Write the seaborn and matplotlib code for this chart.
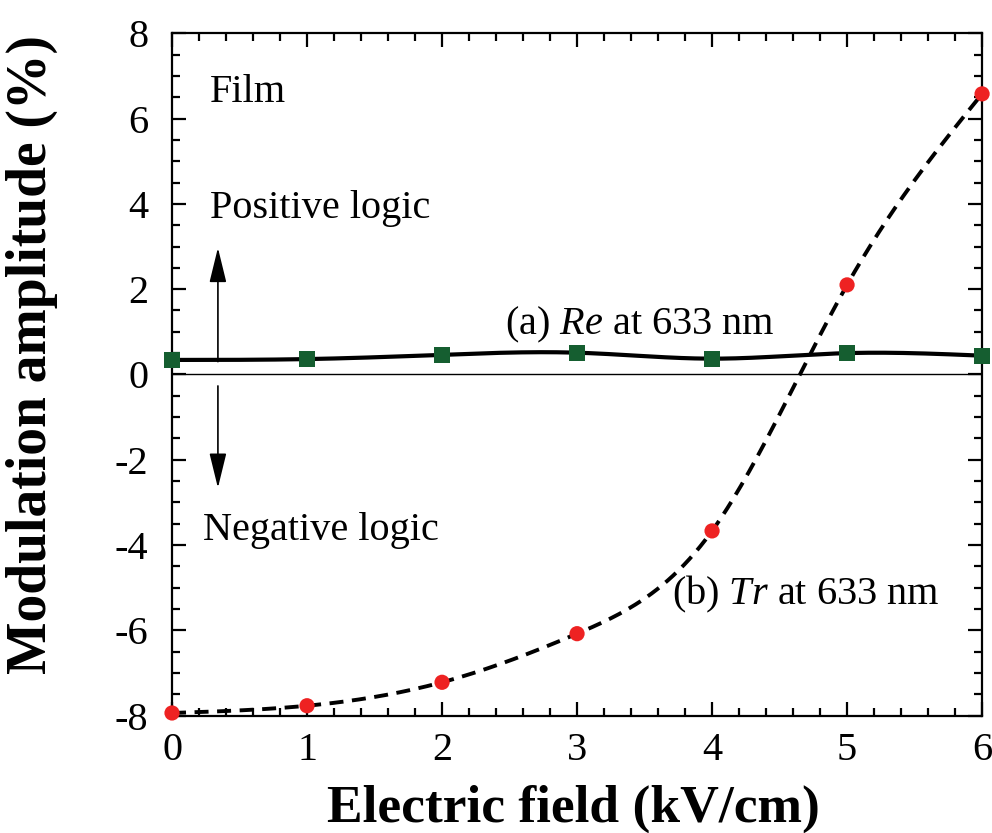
import matplotlib
matplotlib.use("Agg")
import matplotlib.pyplot as plt
from matplotlib.ticker import MultipleLocator
import seaborn as sns
import numpy as np
import pandas as pd

# data
field = [0, 1, 2, 3, 4, 5, 6]
re_633 = [0.34, 0.36, 0.46, 0.51, 0.37, 0.50, 0.44]
tr_633 = [-7.94, -7.77, -7.22, -6.08, -3.67, 2.10, 6.58]


def natural_spline(x, y, xs):
  # plain natural cubic spline, smooth line through the measured points
  x = np.asarray(x, float)
  y = np.asarray(y, float)
  n = len(x)
  h = np.diff(x)
  A = np.zeros((n, n))
  b = np.zeros(n)
  A[0, 0] = A[-1, -1] = 1
  for i in range(1, n - 1):
    A[i, i - 1] = h[i - 1]
    A[i, i] = 2 * (h[i - 1] + h[i])
    A[i, i + 1] = h[i]
    b[i] = 3 * ((y[i + 1] - y[i]) / h[i] - (y[i] - y[i - 1]) / h[i - 1])
  c = np.linalg.solve(A, b)
  out = np.empty_like(xs)
  for k, t in enumerate(xs):
    i = min(np.searchsorted(x, t, side="right") - 1, n - 2)
    i = max(i, 0)
    dx = t - x[i]
    bb = (y[i + 1] - y[i]) / h[i] - h[i] * (2 * c[i] + c[i + 1]) / 3
    d = (c[i + 1] - c[i]) / (3 * h[i])
    out[k] = y[i] + bb * dx + c[i] * dx ** 2 + d * dx ** 3
  return out


df = pd.DataFrame({"field": field, "re": re_633, "tr": tr_633})
xs = np.linspace(0, 6, 300)
fit_tr = natural_spline(df["field"], df["tr"], xs)
fit_re = natural_spline(df["field"], df["re"], xs)

sns.set_style("ticks")
plt.rcParams["font.family"] = ["Liberation Serif", "DejaVu Serif"]
plt.rcParams["mathtext.fontset"] = "custom"
plt.rcParams["mathtext.it"] = "Liberation Serif:italic"
plt.rcParams["mathtext.rm"] = "Liberation Serif"
plt.rcParams["axes.unicode_minus"] = False
for k in ["text.color", "axes.labelcolor", "xtick.color", "ytick.color", "axes.edgecolor"]:
  plt.rcParams[k] = "black"

fig = plt.figure(figsize=(9.92, 8.33), dpi=100)
ax = fig.add_axes([0.1734, 0.141, 0.8166, 0.819])

ax.axhline(0, color="black", linewidth=1.0, zorder=1)

sns.lineplot(x=xs, y=fit_re, ax=ax, color="black", linewidth=3, zorder=2)
sns.lineplot(x=xs, y=fit_tr, ax=ax, color="black", linewidth=2.8,
             linestyle=(0, (3.6, 2.2)), zorder=2)
sns.scatterplot(data=df, x="field", y="re", ax=ax, marker="s", s=135,
                color="#155e30", edgecolor="none", zorder=3, clip_on=False)
sns.scatterplot(data=df, x="field", y="tr", ax=ax, marker="o", s=120,
                color="#ee2222", edgecolor="none", zorder=3, clip_on=False)

ax.set_xlim(0, 6)
ax.set_ylim(-8, 8)
ax.xaxis.set_major_locator(MultipleLocator(1))
ax.xaxis.set_minor_locator(MultipleLocator(0.2))
ax.yaxis.set_major_locator(MultipleLocator(2))
ax.yaxis.set_minor_locator(MultipleLocator(0.5))
ax.tick_params(which="both", direction="in", top=True, right=True,
               labelsize=29, width=1.6)
ax.tick_params(axis="x", pad=12)
ax.tick_params(axis="y", pad=17)
ax.tick_params(which="major", length=10)
ax.tick_params(which="minor", length=6)
for s in ax.spines.values():
  s.set_linewidth(1.6)

ax.set_xlabel("Electric field (kV/cm)", fontsize=38.5, fontweight="bold")
ax.set_ylabel("Modulation amplitude (%)", fontsize=40, fontweight="bold")
ax.xaxis.set_label_coords(0.496, -0.102)
ax.yaxis.set_label_coords(-0.173, 0.529)
ax.yaxis.label.set_va("center")

# annotations
fs = 29
ax.text(0.28, 6.40, "Film", fontsize=fs, va="baseline")
ax.text(0.28, 3.67, "Positive logic", fontsize=fs, va="baseline")
ax.text(0.233, -3.88, "Negative logic", fontsize=fs, va="baseline")
ax.text(2.47, 0.93, "(a) $\\mathit{Re}$ at 633 nm", fontsize=fs, va="baseline")
ax.text(3.70, -5.40, "(b) $\\mathit{Tr}$ at 633 nm", fontsize=fs, va="baseline")

arrow = dict(arrowstyle="-|>,head_length=0.9,head_width=0.22", color="black",
             lw=1.2, mutation_scale=24, shrinkA=0, shrinkB=0)
ax.annotate("", xy=(0.34, 2.97), xytext=(0.34, 0.3), arrowprops=arrow)
ax.annotate("", xy=(0.34, -2.66), xytext=(0.34, -0.27), arrowprops=arrow)

fig.savefig("out.png", dpi=100)
